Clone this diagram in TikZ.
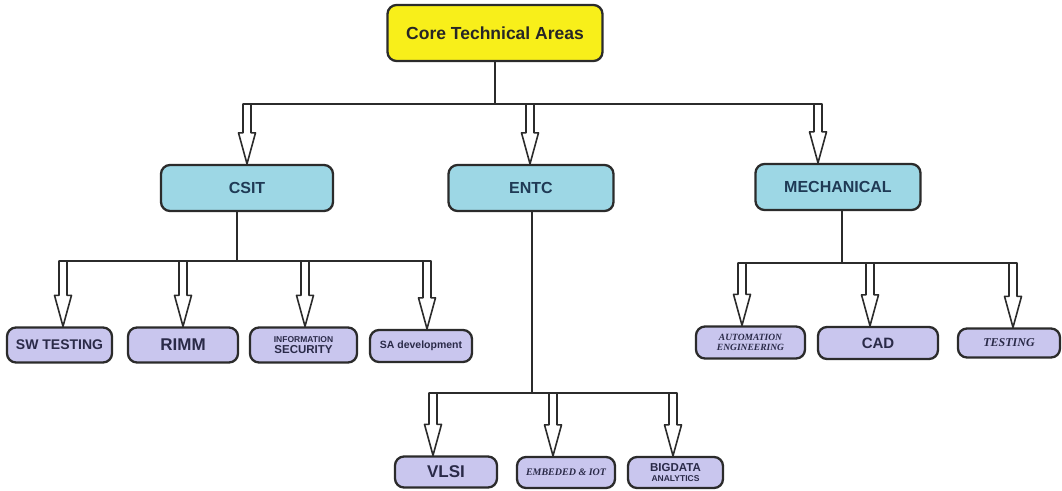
\documentclass[tikz,border=0pt]{standalone}
\usepackage{fontspec}
\setmainfont{Liberation Serif}
\setsansfont{Liberation Sans}
\usetikzlibrary{calc}

\definecolor{coreY}{HTML}{F8EF1A}
\definecolor{lvlB}{HTML}{9DD7E5}
\definecolor{lvlC}{HTML}{C9C6EE}
\definecolor{edgec}{HTML}{2B2B2B}
\definecolor{navy}{HTML}{1F3A55}
\definecolor{ink}{HTML}{2A2A48}

\tikzset{
 box/.style={draw=edgec, line width=2.3pt, rounded corners=9pt, inner sep=0pt, anchor=center, align=center},
 corebox/.style={box, fill=coreY, minimum width=215pt, minimum height=56pt, text=black!85, font=\sffamily\bfseries\fontsize{17.5}{20}\selectfont},
 midbox/.style={box, fill=lvlB, minimum height=46pt, text=navy, font=\sffamily\bfseries\fontsize{16}{18}\selectfont},
 leafbox/.style={box, fill=lvlC, minimum height=35pt, text=ink, font=\sffamily\bfseries},
 link/.style={draw=edgec, line width=2pt},
 blockarrow/.style={draw=edgec, fill=white, line width=1.6pt, line join=round,
   to path={let \p1=(\tikztostart), \p2=(\tikztotarget) in
     (\x1-4pt,\y1) -- (\x1-4pt,\y2+31pt) -- (\x1-8.5pt,\y2+31pt) -- (\x1,\y2)
     -- (\x1+8.5pt,\y2+31pt) -- (\x1+4pt,\y2+31pt) -- (\x1+4pt,\y1) -- cycle}},
}

\begin{document}
\begin{tikzpicture}[x=1pt,y=-1pt]
\useasboundingbox (0,0) rectangle (1062,490);

% top level
\node[corebox] (core) at (495,33) {Core Technical Areas};

% second level
\node[midbox, minimum width=172pt] (csit) at (247,188) {CSIT};
\node[midbox, minimum width=165pt] (entc) at (531,188) {ENTC};
\node[midbox, minimum width=165pt] (mech) at (838,187) {MECHANICAL};

% CSIT leaves
\node[leafbox, minimum width=105pt, font=\sffamily\bfseries\fontsize{14}{16}\selectfont] (sw) at (59.5,345) {SW TESTING};
\node[leafbox, minimum width=110pt, font=\sffamily\bfseries\fontsize{17}{19}\selectfont] (rimm) at (183,345) {RIMM};
\node[leafbox, minimum width=107pt] (info) at (303.5,345) {{\fontsize{8.5}{9}\selectfont INFORMATION}\\[-1pt]{\fontsize{11.5}{13}\selectfont SECURITY}};
\node[leafbox, minimum width=102pt, minimum height=32pt, font=\sffamily\bfseries\fontsize{10.5}{12}\selectfont] (sa) at (421,346) {SA development};

% MECH leaves
\node[leafbox, minimum width=109pt, minimum height=32pt, font=\rmfamily\bfseries\itshape\fontsize{9.5}{10}\selectfont] (auto) at (750.5,342.5) {AUTOMATION\\ENGINEERING};
\node[leafbox, minimum width=120pt, minimum height=32pt, font=\sffamily\bfseries\fontsize{15}{17}\selectfont] (cad) at (878,343) {CAD};
\node[leafbox, minimum width=102pt, minimum height=29pt, font=\rmfamily\bfseries\itshape\fontsize{12}{14}\selectfont] (test) at (1009,343) {TESTING};

% ENTC leaves
\node[leafbox, minimum width=102pt, minimum height=31pt, font=\sffamily\bfseries\fontsize{17}{19}\selectfont] (vlsi) at (446,472) {VLSI};
\node[leafbox, minimum width=98pt, minimum height=31pt, font=\rmfamily\bfseries\itshape\fontsize{10}{12}\selectfont] (emb) at (566,472.5) {EMBEDED \& IOT};
\node[leafbox, minimum width=95pt, minimum height=31pt] (big) at (675.5,472.5) {{\fontsize{11.5}{12}\selectfont BIGDATA}\\[-2pt]{\fontsize{8.5}{9}\selectfont ANALYTICS}};

% junction coordinates
\coordinate (t1) at (247,104);
\coordinate (t2) at (530,104);
\coordinate (t3) at (818,104);

\coordinate (c0) at (237,261);
\coordinate (c1) at (63,261);
\coordinate (c2) at (183,261);
\coordinate (c3) at (305,261);
\coordinate (c4) at (427,261);

\coordinate (m0) at (842,263);
\coordinate (m1) at (742,263);
\coordinate (m2) at (870,263);
\coordinate (m3) at (1013,263);

\coordinate (e0) at (532,393);
\coordinate (e1) at (433,393);
\coordinate (e2) at (553,393);
\coordinate (e3) at (673,393);

% trunks
\draw[link] (core.south) -- (core.south |- t2);
\draw[link] (t1) -- (t3);
\draw[link] (c0 |- csit.south) -- (c0);
\draw[link] (c1) -- (c4);
\draw[link] (m0 |- mech.south) -- (m0);
\draw[link] (m1) -- (m3);
\draw[link] (e0 |- entc.south) -- (e0);
\draw[link] (e1) -- (e3);

% block arrows
\path[blockarrow] (t1) to (t1 |- csit.north);
\path[blockarrow] (t2) to (t2 |- entc.north);
\path[blockarrow] (t3) to (t3 |- mech.north);

\path[blockarrow] (c1) to (c1 |- sw.north);
\path[blockarrow] (c2) to (c2 |- rimm.north);
\path[blockarrow] (c3) to (c3 |- info.north);
\path[blockarrow] (c4) to (c4 |- sa.north);

\path[blockarrow] (m1) to (m1 |- auto.north);
\path[blockarrow] (m2) to (m2 |- cad.north);
\path[blockarrow] (m3) to (m3 |- test.north);

\path[blockarrow] (e1) to (e1 |- vlsi.north);
\path[blockarrow] (e2) to (e2 |- emb.north);
\path[blockarrow] (e3) to (e3 |- big.north);
\end{tikzpicture}
\end{document}
